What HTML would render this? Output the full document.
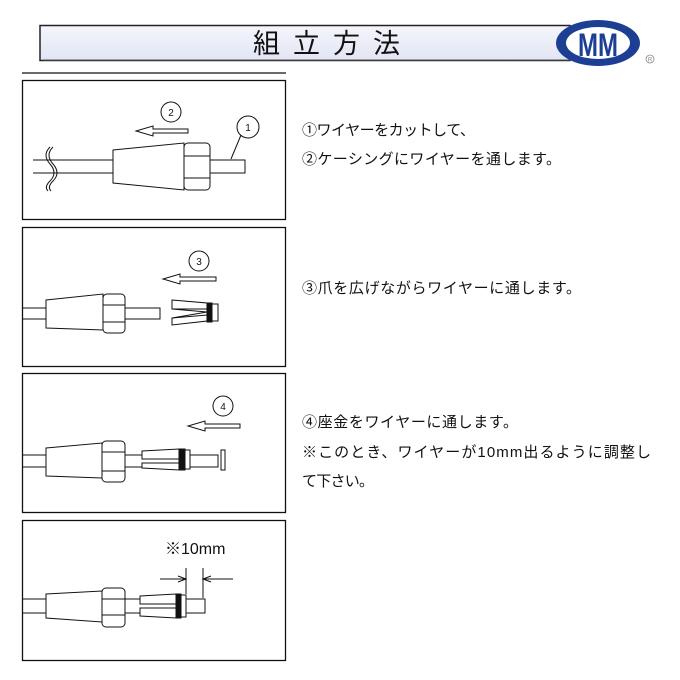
<!DOCTYPE html>
<html><head><meta charset="utf-8"><style>
body{margin:0;background:#fff;width:680px;height:680px;overflow:hidden}
svg{display:block}
text{font-family:"Liberation Sans","Noto Sans CJK JP",sans-serif}
</style></head><body>
<svg width="680" height="680" viewBox="0 0 680 680" xmlns="http://www.w3.org/2000/svg">
<defs>
<linearGradient id="g" x1="0" y1="0" x2="0" y2="1"><stop offset="0" stop-color="#f4f5fc"/><stop offset="1" stop-color="#e2e5f4"/></linearGradient>
</defs>
<rect x="40" y="25.5" width="530" height="35" fill="url(#g)" stroke="#222" stroke-width="1.5"/>
<line x1="43" y1="60" x2="570" y2="60" stroke="#555" stroke-width="1"/>
<text x="333" y="53" font-size="27" text-anchor="middle" letter-spacing="13" fill="#111">組立方法</text>
<ellipse cx="598" cy="43" rx="42" ry="23" fill="#1c3f94"/>
<ellipse cx="598" cy="43" rx="32" ry="16" fill="#fff"/>
<text x="598" y="56" font-size="32" font-weight="bold" text-anchor="middle" fill="#1c3f94" transform="translate(598 0) scale(0.75 1) translate(-598 0)">MM</text>
<circle cx="650" cy="59" r="4" fill="none" stroke="#888" stroke-width="0.8"/>
<text x="650" y="61.5" font-size="6" text-anchor="middle" fill="#888">R</text>
<line x1="22" y1="73" x2="286" y2="73" stroke="#111" stroke-width="1.2"/>

<g fill="none" stroke="#111" stroke-width="1.3">
<rect x="22.5" y="80.5" width="263" height="139"/>
<rect x="22.5" y="227.5" width="263" height="139"/>
<rect x="22.5" y="373.5" width="263" height="139"/>
<rect x="22.5" y="520.5" width="263" height="140"/>
</g>

<g fill="#fff" stroke="#111" stroke-width="1">
<line x1="33" y1="160" x2="113" y2="160"/><line x1="33" y1="173" x2="113" y2="173"/>
<path d="M53 147 q-8 8 0 17 q8 9 0 17 q-6 6 -2 10" fill="none"/>
<path d="M50 147 q-8 8 0 17 q8 9 0 17 q-6 6 -2 10" fill="none"/>
<rect x="210" y="160" width="35" height="13"/>
<path d="M113 150 L184 143 L184 190 L113 183 Z"/>
<rect x="184" y="143" width="26" height="47" rx="4"/>
<line x1="184" y1="156" x2="210" y2="156"/><line x1="184" y1="178" x2="210" y2="178"/>
<circle cx="248" cy="127" r="11"/><text x="248" y="131" font-size="10" text-anchor="middle" stroke="none" fill="#111">1</text>
<line x1="241" y1="135" x2="231" y2="159"/>
<circle cx="171" cy="112" r="10"/><text x="171" y="116" font-size="10" text-anchor="middle" stroke="none" fill="#111">2</text>
<path d="M188 129 L153 129 L153 126 L136 131 L153 136 L153 133 L188 133 Z"/>

<line x1="22" y1="308" x2="46" y2="308"/><line x1="22" y1="319" x2="46" y2="319"/>
<rect x="125" y="308" width="35" height="11"/>
<path d="M46 300 L103 294 L103 330 L46 328 Z"/>
<rect x="103" y="294" width="22" height="39" rx="4"/>
<line x1="103" y1="305" x2="125" y2="305"/><line x1="103" y1="322" x2="125" y2="322"/>
<path d="M172 300 L207 303 L207 309 L172 309 Z"/>
<path d="M172 318 L207 315 L207 321 L172 325 Z"/>
<path d="M172 309 L207 312 L172 318"/>
<rect x="207" y="303" width="5" height="19" fill="#111"/>
<rect x="212" y="304" width="6" height="17"/>
<circle cx="199" cy="261" r="10"/><text x="199" y="265" font-size="10" text-anchor="middle" stroke="none" fill="#111">3</text>
<path d="M216 277 L180 277 L180 274 L163 279 L180 284 L180 281 L216 281 Z"/>

<line x1="22" y1="455" x2="46" y2="455"/><line x1="22" y1="467" x2="46" y2="467"/>
<rect x="125" y="455" width="93" height="12"/>
<path d="M46 448 L102 443 L102 478 L46 476 Z"/>
<rect x="102" y="441" width="23" height="41" rx="4"/>
<line x1="102" y1="452" x2="125" y2="452"/><line x1="102" y1="471" x2="125" y2="471"/>
<path d="M142 451 L179 449 L179 459 L142 459 Z"/>
<path d="M142 463 L179 463 L179 470 L142 468 Z"/>
<rect x="179" y="449" width="6" height="21" fill="#111"/>
<rect x="185" y="450" width="5" height="19"/>
<rect x="221" y="450" width="4" height="20"/>
<circle cx="223" cy="406" r="10"/><text x="223" y="410" font-size="10" text-anchor="middle" stroke="none" fill="#111">4</text>
<path d="M240 424 L205 424 L205 421 L188 426 L205 431 L205 428 L240 428 Z"/>

<line x1="22" y1="599" x2="46" y2="599"/><line x1="22" y1="613" x2="46" y2="613"/>
<rect x="125" y="599" width="80" height="14"/>
<path d="M46 594 L102 591 L102 622 L46 618 Z"/>
<rect x="102" y="588" width="23" height="39" rx="4"/>
<line x1="102" y1="599" x2="125" y2="599"/><line x1="102" y1="615" x2="125" y2="615"/>
<path d="M140 596 L176 594 L176 604 L140 604 Z"/>
<path d="M140 608 L176 608 L176 618 L140 616 Z"/>
<rect x="176" y="594" width="5" height="24" fill="#111"/>
<rect x="181" y="595" width="5" height="22"/>
<line x1="186" y1="568" x2="186" y2="594"/><line x1="203" y1="568" x2="203" y2="598"/>
<line x1="160" y1="579" x2="186" y2="579"/><line x1="203" y1="579" x2="233" y2="579"/>
<path d="M178 576 L186 579 L178 582" fill="none"/><path d="M211 576 L203 579 L211 582" fill="none"/>
</g>
<text x="165" y="554" font-size="16" fill="#111">※10mm</text>

<g font-size="15" fill="#111">
<text x="302" y="135" textLength="173" lengthAdjust="spacing">①ワイヤーをカットして、</text>
<text x="302" y="164" textLength="259" lengthAdjust="spacing">②ケーシングにワイヤーを通します。</text>
<text x="302" y="293" textLength="279" lengthAdjust="spacing">③爪を広げながらワイヤーに通します。</text>
<text x="302" y="427" textLength="216" lengthAdjust="spacing">④座金をワイヤーに通します。</text>
<text x="302" y="457" textLength="349" lengthAdjust="spacing">※このとき、ワイヤーが10mm出るように調整し</text>
<text x="302" y="486" textLength="72" lengthAdjust="spacing">て下さい。</text>
</g>
</svg>
</body></html>
